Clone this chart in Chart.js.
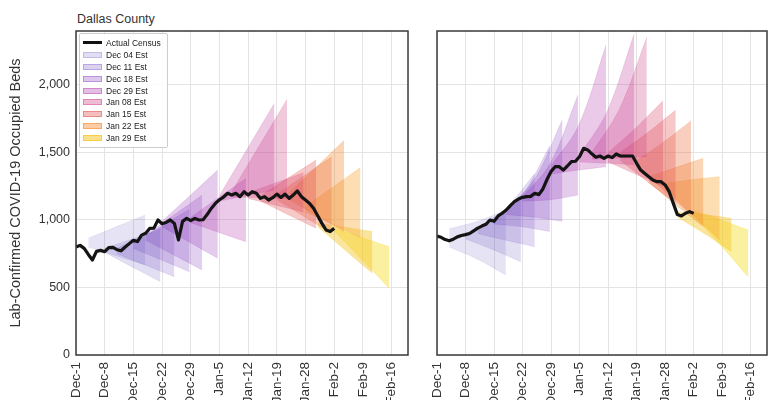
<!DOCTYPE html>
<html>
<head>
<meta charset="utf-8">
<title>Dallas County</title>
<script src="https://cdn.jsdelivr.net/npm/chart.js@4.4.0/dist/chart.umd.min.js"></script>
<style>
  html, body { margin: 0; padding: 0; background: #fff; }
  body { width: 779px; height: 400px; position: relative; overflow: hidden; font-family: 'Liberation Sans', Arial, sans-serif; }
  .panel { position: absolute; top: 0; height: 400px; }
  #leftPanel { left: 0; width: 420px; }
  #rightPanel { left: 420px; width: 359px; }
  #title { position: absolute; left: 77px; top: 12px; font-size: 12.5px; color: #333; }
  #legend { position: absolute; left: 79px; top: 33px; width: 87px; padding: 3px 0 3px 0; background: rgba(255,255,255,0.85); border: 1px solid #ccc; border-radius: 2px; font-size: 8.5px; color: #222; }
  .item { height: 11.9px; display: flex; align-items: center; }
  .swatch { width: 19px; height: 6px; margin: 0 4px 0 3px; box-sizing: border-box; }
</style>
</head>
<body>
<div id="title">Dallas County</div>
<div class="panel" id="leftPanel"><canvas id="leftChart"></canvas></div>
<div class="panel" id="rightPanel"><canvas id="rightChart"></canvas></div>
<div id="legend"></div>
<script>
// days counted from Dec-1 (= day 0)
const xTickDays = [0, 7, 14, 21, 28, 35, 42, 49, 56, 63, 70, 77];
const xTickLabels = ['Dec-1', 'Dec-8', 'Dec-15', 'Dec-22', 'Dec-29', 'Jan-5', 'Jan-12', 'Jan-19', 'Jan-28', 'Feb-2', 'Feb-9', 'Feb-16'];
const yTickValues = [0, 500, 1000, 1500, 2000];
const yTickLabels = ['0', '500', '1,000', '1,500', '2,000'];

// actual census, one value per day from Dec-1
const leftCensus = [800, 812, 790, 745, 704, 768, 775, 765, 795, 797, 780, 772, 800, 825, 850, 840,
  888, 902, 938, 940, 1000, 972, 982, 1000, 975, 852, 990, 1012, 995, 1012, 1000, 1002,
  1040, 1086, 1123, 1150, 1170, 1198, 1185, 1198, 1173, 1210, 1185, 1210, 1198, 1160, 1173, 1148,
  1165, 1192, 1167, 1192, 1160, 1185, 1215, 1173, 1148, 1123, 1086, 1030, 975, 926, 914, 938];
const rightCensus = [881, 872, 855, 846, 858, 875, 885, 892, 900, 920, 940, 955, 968, 1000, 990, 1030,
  1050, 1074, 1106, 1136, 1155, 1168, 1173, 1175, 1198, 1188, 1230, 1300, 1360, 1395, 1395, 1370,
  1400, 1432, 1435, 1470, 1531, 1519, 1490, 1465, 1474, 1457, 1474, 1462, 1489, 1474, 1474, 1474,
  1474, 1420, 1370, 1345, 1320, 1296, 1284, 1284, 1260, 1210, 1123, 1040, 1030, 1050, 1062, 1049];

// forecast fans: first and last day of each estimate
const fanStart = [3, 7, 10, 14, 17, 21, 28, 35, 38, 42, 45, 49, 52, 56, 59, 63];
const fanEnd = [16.9, 20.6, 24, 27.7, 30.8, 34.6, 41.5, 48.4, 51.5, 55.5, 58.6, 62.4, 65.4, 69.4, 72.3, 76.4];
const fanLabels = ['Dec 04 Est', '', 'Dec 11 Est', '', 'Dec 18 Est', '', 'Dec 29 Est', '',
  'Jan 08 Est', '', 'Jan 15 Est', '', 'Jan 22 Est', '', 'Jan 29 Est', ''];
const fanColors = [
  'rgba(70, 60, 175, 0.14)', 'rgba(80, 55, 180, 0.16)', 'rgba(95, 50, 185, 0.18)', 'rgba(110, 45, 185, 0.2)',
  'rgba(125, 40, 185, 0.22)', 'rgba(148, 40, 175, 0.24)', 'rgba(172, 50, 165, 0.26)', 'rgba(192, 55, 150, 0.27)',
  'rgba(205, 60, 130, 0.28)', 'rgba(215, 70, 105, 0.3)', 'rgba(226, 85, 80, 0.32)', 'rgba(234, 110, 60, 0.33)',
  'rgba(242, 135, 45, 0.35)', 'rgba(246, 165, 45, 0.37)', 'rgba(244, 198, 40, 0.45)', 'rgba(246, 222, 45, 0.45)'
];

// left panel fans: value at start and end of each estimate
const leftUpperStart = [865, 790, 790, 830, 890, 990, 1020, 1180, 1210, 1200, 1180, 1190, 1200, 1100, 980, 940];
const leftUpperEnd = [1037, 930, 990, 1080, 1185, 1370, 1309, 1864, 1894, 1350, 1444, 1469, 1588, 1388, 914, 802];
const leftLowerStart = [800, 760, 750, 790, 850, 950, 980, 1140, 1170, 1160, 1140, 1150, 1150, 1060, 950, 920];
const leftLowerEnd = [667, 543, 580, 617, 630, 716, 839, 1222, 1160, 1060, 938, 900, 914, 870, 605, 494];

// right panel fans: value at start, middle and end of each estimate
const rightUpper = [
  [935, 990, 1075], [900, 1000, 1150], [940, 1090, 1345], [1000, 1180, 1550],
  [1080, 1300, 1745], [1170, 1420, 1926], [1400, 1700, 2296], [1480, 1800, 2378],
  [1500, 1820, 2353], [1500, 1680, 1884], [1500, 1650, 1815], [1440, 1580, 1736],
  [1320, 1390, 1457], [1270, 1300, 1321], [1060, 1040, 1012], [1070, 1000, 926]
];
const rightLower = [
  [800, 710, 593], [860, 780, 690], [900, 850, 802], [970, 950, 915],
  [1040, 1020, 990], [1140, 1150, 1185], [1340, 1370, 1395], [1430, 1420, 1410],
  [1450, 1460, 1469], [1430, 1340, 1247], [1440, 1280, 1123], [1400, 1220, 1037],
  [1280, 1110, 951], [1230, 1040, 852], [1020, 900, 765], [1030, 810, 580]
];

Chart.defaults.font.family = "'Liberation Sans', Arial, sans-serif";
Chart.defaults.color = '#333';

const frameBox = {
  id: 'frameBox',
  afterDatasetsDraw(chart) {
    const {ctx, chartArea: a} = chart;
    ctx.save();
    ctx.strokeStyle = '#3a3a3a';
    ctx.lineWidth = 1.5;
    ctx.strokeRect(a.left, a.top, a.right - a.left, a.bottom - a.top);
    ctx.restore();
  }
};

function strongerAlpha(c, k) {
  return c.replace(/[\d.]+\)$/, m => Math.min(1, parseFloat(m) * k).toFixed(2) + ')');
}

function fanDatasets(upper, lower) {
  const sets = [];
  fanStart.forEach((s, i) => {
    const e = fanEnd[i];
    const days = upper[i].length === 2 ? [s, e] : [s, (s + e) / 2, e];
    const base = {
      type: 'line', pointRadius: 0, borderWidth: 0.5, tension: 0.35,
      borderColor: strongerAlpha(fanColors[i], 1.15), backgroundColor: fanColors[i], order: 1
    };
    sets.push(Object.assign({}, base, {
      data: days.map((d, k) => ({x: d, y: upper[i][k]})), fill: '+1'
    }));
    sets.push(Object.assign({}, base, {
      data: days.map((d, k) => ({x: d, y: lower[i][k]})), fill: false
    }));
  });
  return sets;
}

function makePanel(canvasId, census, upper, lower, showY) {
  const datasets = [{
    type: 'line',
    label: 'Actual Census',
    data: census.map((v, d) => ({x: d, y: v})),
    borderColor: '#141414',
    borderWidth: 3.2,
    borderJoinStyle: 'round',
    pointRadius: 0,
    fill: false,
    order: 0
  }].concat(fanDatasets(upper, lower));

  return new Chart(document.getElementById(canvasId), {
    type: 'line',
    data: { datasets: datasets },
    options: {
      responsive: true,
      maintainAspectRatio: false,
      animation: false,
      layout: { padding: { top: 31, right: 12, bottom: 0, left: 0 } },
      plugins: { legend: { display: false }, tooltip: { enabled: false } },
      scales: {
        x: {
          type: 'linear',
          min: 0,
          max: 81,
          afterBuildTicks: scale => { scale.ticks = xTickDays.map(v => ({value: v})); },
          afterFit: scale => { scale.height = 45; },
          grid: { color: '#e4e4e4', drawTicks: false },
          border: { display: false },
          ticks: {
            autoSkip: false,
            minRotation: 90,
            maxRotation: 90,
            padding: 7,
            color: '#333',
            font: { size: 13.5 },
            callback: (v, i) => xTickLabels[i]
          }
        },
        y: {
          min: 0,
          max: 2400,
          afterBuildTicks: scale => { scale.ticks = yTickValues.map(v => ({value: v})); },
          afterFit: scale => { scale.width = showY ? 76 : 17; },
          grid: { color: '#e4e4e4', drawTicks: false },
          border: { display: false },
          title: {
            display: showY,
            text: 'Lab-Confirmed COVID-19 Occupied Beds',
            color: '#333',
            font: { size: 14.5 },
            padding: { top: 7, bottom: 0 }
          },
          ticks: {
            display: showY,
            padding: 6,
            color: '#333',
            font: { size: 12.5 },
            callback: (v, i) => yTickLabels[i]
          }
        }
      }
    },
    plugins: [frameBox]
  });
}

makePanel('leftChart', leftCensus, leftUpperStart.map((v, i) => [v, leftUpperEnd[i]]),
  leftLowerStart.map((v, i) => [v, leftLowerEnd[i]]), true);
makePanel('rightChart', rightCensus, rightUpper, rightLower, false);

// legend box inside the left panel
const legend = document.getElementById('legend');
let html = '<div class="item"><span class="swatch" style="height:3px;background:#111"></span>Actual Census</div>';
fanLabels.forEach((lab, i) => {
  if (!lab) return;
  html += '<div class="item"><span class="swatch" style="background:' + strongerAlpha(fanColors[i], 1.2) +
    ';border:1px solid ' + strongerAlpha(fanColors[i], 1.5) + '"></span>' + lab + '</div>';
});
legend.innerHTML = html;
</script>
</body>
</html>
